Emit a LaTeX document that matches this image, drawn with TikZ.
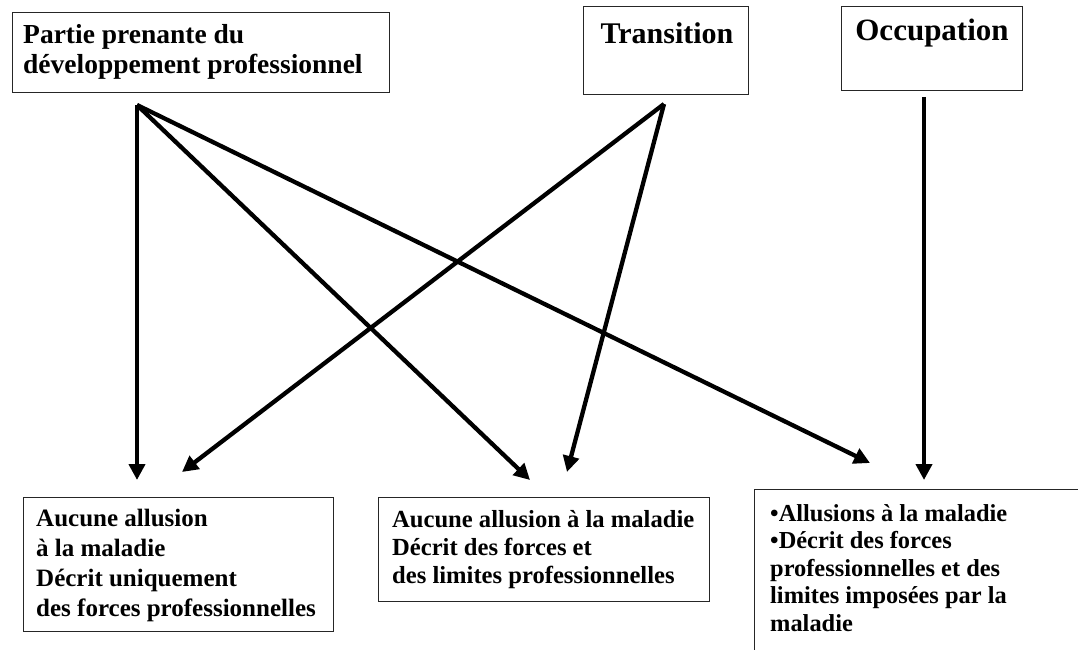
\documentclass[tikz,border=0pt]{standalone}
\usepackage{fontspec}
\setmainfont{Liberation Serif}
\usetikzlibrary{arrows.meta}
\tikzset{
  box/.style={draw=black!85, line width=1.3pt, inner sep=0pt, anchor=north west},
  lbl/.style={inner sep=0pt, align=left, anchor=west, font=\bfseries},
  conn/.style={line width=4.3pt, -{Triangle[length=16pt,width=16pt]}}
}
\begin{document}
\begin{tikzpicture}[x=1pt,y=-1pt]
  \useasboundingbox (0,0) rectangle (1078,650);
  \clip (0,0) rectangle (1078,650);

  % category boxes along the top
  \node[box, minimum width=377pt, minimum height=80pt] (bStake) at (12,12) {};
  \node[lbl, font=\bfseries\fontsize{27.5}{30}\selectfont] (tStake) at (23,52)
    {Partie prenante du\\développement professionnel};
  \node[box, minimum width=165pt, minimum height=88pt] (bTrans) at (583,6) {};
  \node[inner sep=0pt, font=\bfseries\fontsize{30}{32}\selectfont] (tTrans) at (667,33) {Transition};
  \node[box, minimum width=181pt, minimum height=84pt] (bOccup) at (841,6) {};
  \node[inner sep=0pt, font=\bfseries\fontsize{31}{33}\selectfont] (tOccup) at (932,33) {Occupation};

  % outcome boxes along the bottom
  \node[box, minimum width=310pt, minimum height=134pt] (bNone) at (23,497) {};
  \node[lbl, font=\bfseries\fontsize{25}{30}\selectfont] (tNone) at (36,565)
    {Aucune allusion\\à la maladie\\Décrit uniquement\\des forces professionnelles};
  \node[box, minimum width=331pt, minimum height=104pt] (bLimits) at (378,497) {};
  \node[lbl, font=\bfseries\fontsize{24.6}{28}\selectfont] (tLimits) at (392,550)
    {Aucune allusion à la maladie\\Décrit des forces et\\des limites professionnelles};
  \node[box, minimum width=400pt, minimum height=300pt] (bIllness) at (754,489) {};
  \node[lbl, font=\bfseries\fontsize{24.4}{27.5}\selectfont] (tIllness) at (770,568)
    {•Allusions à la maladie\\•Décrit des forces\\professionnelles et des\\limites imposées par la\\maladie};

  % connector ends
  \coordinate (sStake) at (137,105);
  \coordinate (sTrans) at (664,104);
  \coordinate (sOccup) at (924,97);
  \coordinate (eNoneA) at (137,480);
  \coordinate (eNoneB) at (182,472);
  \coordinate (eLimitsA) at (530,480);
  \coordinate (eLimitsB) at (567,472);
  \coordinate (eIllnessA) at (870,463);
  \coordinate (eIllnessB) at (924,480);

  \draw[conn] (sStake) -- (eNoneA);
  \draw[conn] (sStake) -- (eLimitsA);
  \draw[conn] (sStake) -- (eIllnessA);
  \draw[conn] (sTrans) -- (eNoneB);
  \draw[conn] (sTrans) -- (eLimitsB);
  \draw[conn] (sOccup) -- (eIllnessB);
\end{tikzpicture}
\end{document}
